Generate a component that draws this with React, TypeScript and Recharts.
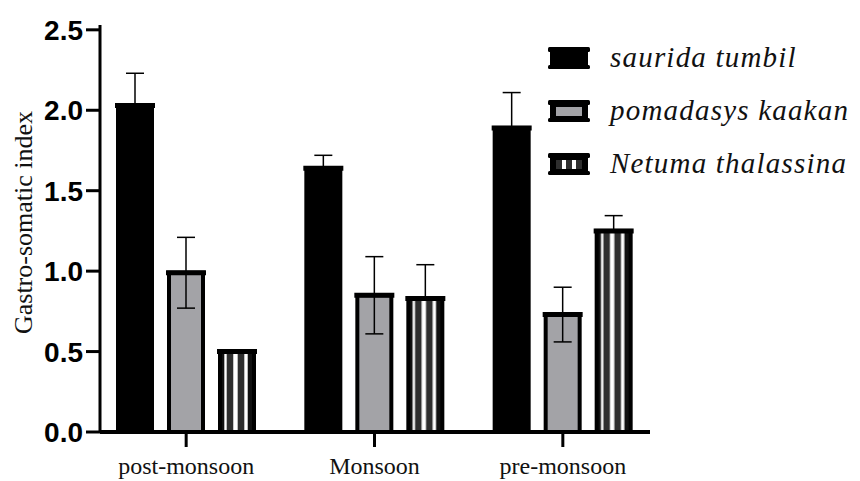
import React from 'react'
import { BarChart, Bar, XAxis, YAxis, ErrorBar, Legend, Label } from 'recharts'

const SEASONS = ['post-monsoon', 'Monsoon', 'pre-monsoon']

const SAURIDA = [2.03, 1.64, 1.89]
const SAURIDA_ERR = [0.2, 0.08, 0.22]
const POMADASYS = [0.99, 0.85, 0.73]
const POMADASYS_ERR = [0.22, 0.24, 0.17]
const NETUMA = [0.5, 0.83, 1.25]
const NETUMA_ERR = [0.01, 0.21, 0.095]

const Y_TICKS = [0, 0.5, 1, 1.5, 2, 2.5]

const GRAY = '#a3a3a7'
const STRIPE = '#2e2e2e'

const data = SEASONS.map((season, i) => ({
  season,
  saurida: SAURIDA[i],
  sauridaErr: [0, SAURIDA_ERR[i]],
  pomadasys: POMADASYS[i],
  pomadasysErr: POMADASYS_ERR[i],
  netuma: NETUMA[i],
  netumaErr: [0, NETUMA_ERR[i]],
}))

const SERIES = [
  { key: 'saurida', name: 'saurida tumbil', fill: '#000' },
  { key: 'pomadasys', name: 'pomadasys kaakan', fill: GRAY },
  { key: 'netuma', name: 'Netuma thalassina', fill: 'url(#stripes)' },
]

// prism-style bar: thick outline and a top cap that sticks out a little
function BarShape(props: any) {
  const { x, y, width, height, fill } = props
  return (
    <g>
      <rect x={x} y={y} width={width} height={height} fill={fill} stroke="#000" strokeWidth={4} />
      <line x1={x - 3} x2={x + width + 3} y1={y} y2={y} stroke="#000" strokeWidth={5} />
    </g>
  )
}

function LegendIcon({ type }: { type: string }) {
  return (
    <svg width={42} height={22}>
      <rect x={2} y={0} width={38} height={22} rx={2} fill="#000" />
      <rect x={0} y={0} width={42} height={5} rx={1.5} fill="#000" />
      <rect x={0} y={18} width={42} height={4} rx={1.5} fill="#000" />
      {type === 'pomadasys' && <rect x={8} y={7} width={26} height={9} fill={GRAY} />}
      {type === 'netuma' && (
        <g>
          <rect x={8} y={7} width={26} height={9} fill="#fff" />
          <rect x={8} y={7} width={6} height={9} fill={STRIPE} />
          <rect x={18} y={7} width={6} height={9} fill={STRIPE} />
          <rect x={28} y={7} width={6} height={9} fill={STRIPE} />
        </g>
      )}
    </svg>
  )
}

function SpeciesLegend() {
  return (
    <div>
      {SERIES.map((s) => (
        <div key={s.key} style={{ display: 'flex', alignItems: 'center', height: 53 }}>
          <LegendIcon type={s.key} />
          <span
            style={{
              marginLeft: 20,
              fontFamily: '"Liberation Serif", serif',
              fontStyle: 'italic',
              fontSize: 29,
              letterSpacing: 1.2,
              color: '#111',
              whiteSpace: 'nowrap',
            }}
          >
            {s.name}
          </span>
        </div>
      ))}
    </div>
  )
}

export default function App() {
  return (
    <div style={{ position: 'absolute', left: 0, top: 0, background: '#fff' }}>
      <BarChart width={860} height={481} data={data} margin={{ top: 25, right: 210, bottom: 9, left: 0 }} barSize={34} barGap={17}>
        <defs>
          <pattern id="stripes" patternUnits="objectBoundingBox" patternContentUnits="objectBoundingBox" width={1} height={1}>
            <rect x={0} y={0} width={1} height={1} fill="#fff" />
            <rect x={0} y={0} width={0.127} height={1} fill="#111" />
            <rect x={0.197} y={0} width={0.193} height={1} fill={STRIPE} />
            <rect x={0.52} y={0} width={0.195} height={1} fill={STRIPE} />
            <rect x={0.815} y={0} width={0.185} height={1} fill="#111" />
          </pattern>
        </defs>
        <XAxis
          dataKey="season"
          height={40}
          padding={{ left: -8, right: -7 }}
          axisLine={{ stroke: '#000', strokeWidth: 4 }}
          tickLine={{ stroke: '#000', strokeWidth: 3 }}
          tickSize={15}
          tickMargin={10}
          tick={{ fill: '#111', fontSize: 24, fontFamily: '"Liberation Serif", serif' }}
        />
        <YAxis
          width={100}
          domain={[0, 2.53]}
          ticks={Y_TICKS}
          interval={0}
          tickFormatter={(v) => v.toFixed(1)}
          axisLine={{ stroke: '#000', strokeWidth: 3 }}
          tickLine={{ stroke: '#000', strokeWidth: 3 }}
          tickSize={14}
          tickMargin={3}
          tick={{ fill: '#000', fontSize: 28, fontWeight: 'bold', fontFamily: '"Liberation Sans", Arial, sans-serif' }}
        >
          <Label
            content={({ viewBox }: any) => {
              const cx = viewBox.x + 32
              const cy = viewBox.y + viewBox.height / 2 - 6
              return (
                <text
                  x={cx}
                  y={cy}
                  transform={`rotate(-90, ${cx}, ${cy})`}
                  textAnchor="middle"
                  fontFamily='"Liberation Serif", serif'
                  fontSize={26}
                  fill="#111"
                >
                  Gastro-somatic index
                </text>
              )
            }}
          />
        </YAxis>
        <Legend
          layout="horizontal"
          align="center"
          verticalAlign="middle"
          content={() => <SpeciesLegend />}
          wrapperStyle={{ top: 31, left: 548, width: 310, height: 160 }}
        />
        {SERIES.map((s) => (
          <Bar key={s.key} dataKey={s.key} name={s.name} fill={s.fill} shape={<BarShape />} isAnimationActive={false}>
            <ErrorBar dataKey={`${s.key}Err`} width={9} stroke="#000" strokeWidth={1.5} direction="y" />
          </Bar>
        ))}
      </BarChart>
    </div>
  )
}
